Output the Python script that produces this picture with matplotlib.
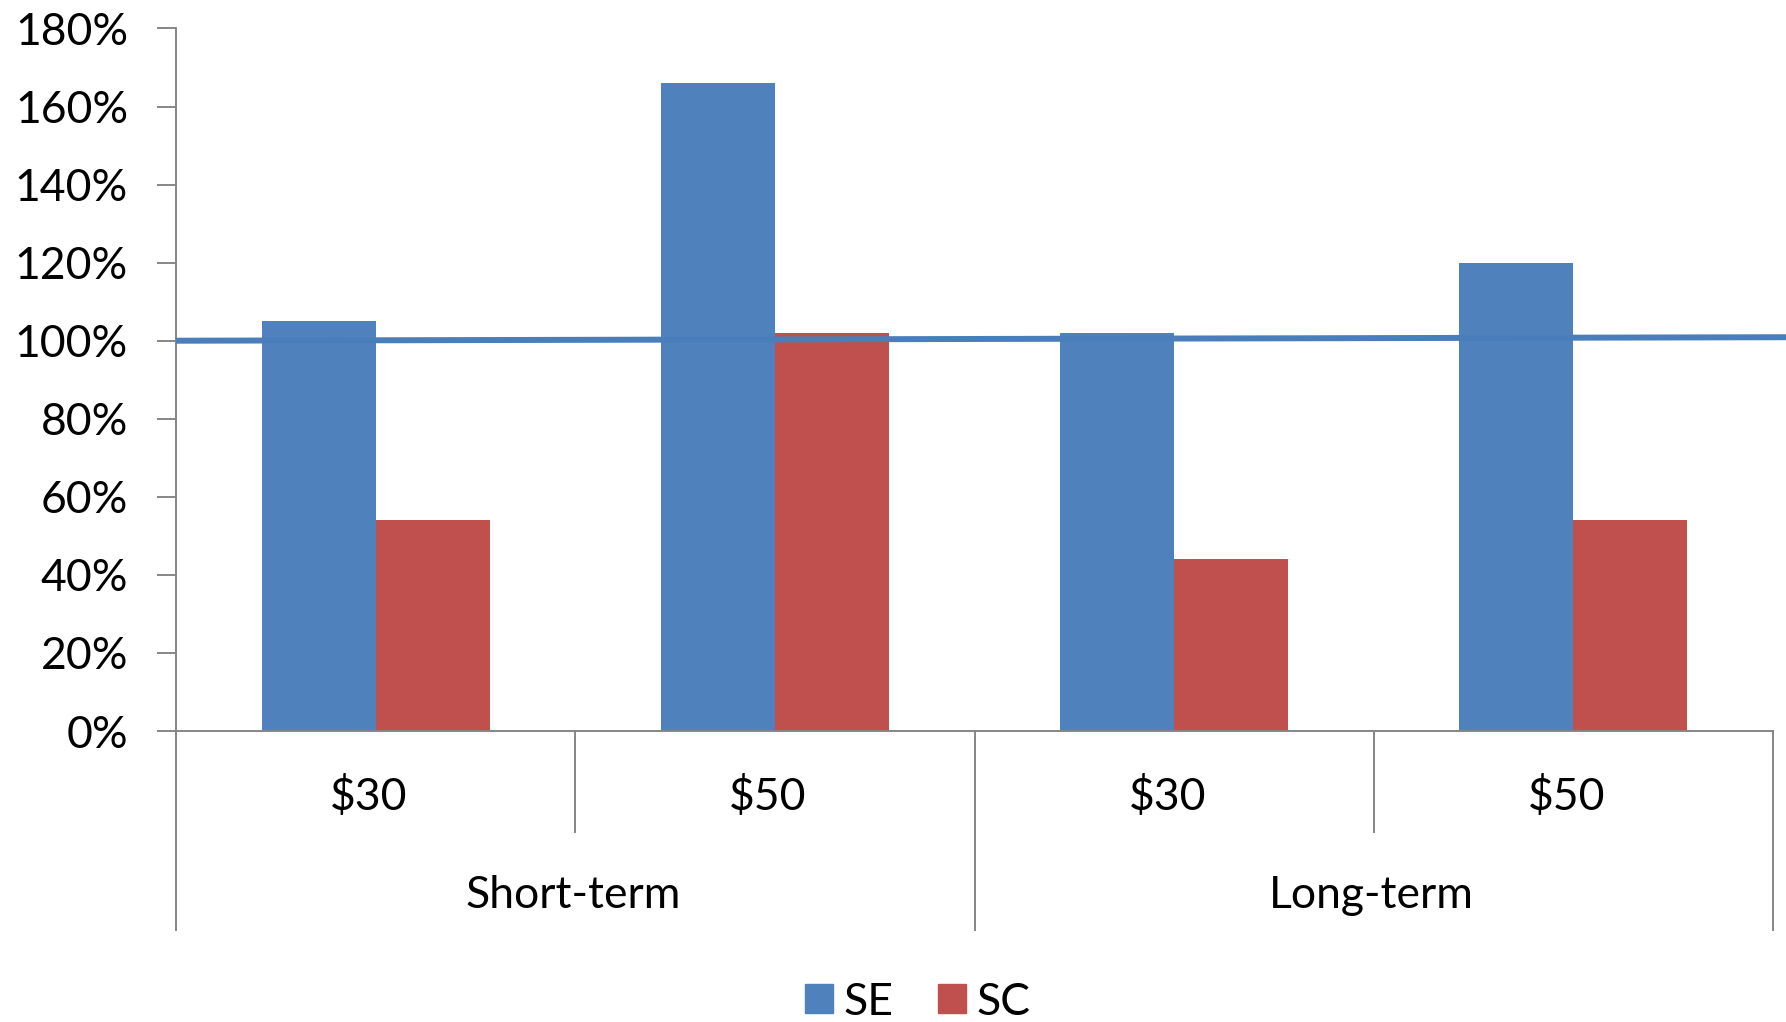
import numpy as np
import matplotlib
matplotlib.use('Agg')
import matplotlib.pyplot as plt
from matplotlib.patches import Patch
import matplotlib.transforms as mtransforms

plt.rcParams['font.family'] = ['Lato', 'DejaVu Sans']

# data
prices = ['$30', '$50', '$30', '$50']
terms = ['Short-term', 'Long-term']
se_vals = [105, 166, 102, 120]
sc_vals = [54, 102, 44, 54]
target_line = [100.0, 100.9]   # hand-drawn 100% marker, left end / right end

blue = '#4F81BD'
red = '#C0504D'
grey = '#868686'

fig = plt.figure(figsize=(17.86, 10.22), dpi=100)
ax = fig.add_axes([176/1786, 291/1022, (1773-176)/1786, (731-28.5)/1022])

x = np.arange(len(prices))
w = 1/3.5   # excel gap width 150%
ax.bar(x - w/2, se_vals, w, color=blue, zorder=2)
ax.bar(x + w/2, sc_vals, w, color=red, zorder=2)

ax.set_xlim(-0.5, len(prices) - 0.5)
ax.set_ylim(0, 180)
ax.set_yticks(np.arange(0, 181, 20))
ax.set_yticklabels([f'{v}%' for v in range(0, 181, 20)], fontsize=32)
ax.tick_params(axis='y', length=13.5, width=1.4, color=grey, pad=21, direction='out')
ax.set_xticks([])

for s in ['top', 'right']:
    ax.spines[s].set_visible(False)
for s in ['left', 'bottom']:
    ax.spines[s].set_color(grey)
    ax.spines[s].set_linewidth(1.4)

# 100% line drawn over the bars, running out to the right edge
x_end = (1786 - 176) / ((1773 - 176) / 4) - 0.5
ax.plot([-0.5, x_end], target_line, color='#4A7EBB', lw=4.3, zorder=3,
        clip_on=False, solid_capstyle='butt')

# two-level category axis
trans = mtransforms.blended_transform_factory(ax.transData, ax.transAxes)
short_drop = -101 / 702.5
long_drop = -199 / 702.5
for i in range(len(prices) + 1):
    xb = i - 0.5
    drop = long_drop if i % 2 == 0 else short_drop
    ax.plot([xb, xb], [0, drop], color=grey, lw=1.4, transform=trans, clip_on=False)

for i, p in enumerate(prices):
    ax.text(i - 0.017, -66 / 702.5, p, transform=trans, ha='center', va='center', fontsize=32)
for j, t in enumerate(terms):
    ax.text(2*j + 0.495, -165 / 702.5, t, transform=trans, ha='center', va='center', fontsize=32)

handles = [Patch(color=blue, label='SE'), Patch(color=red, label='SC')]
fig.legend(handles=handles, loc='center', bbox_to_anchor=(0.514, 1 - 1002/1022),
           ncol=2, frameon=False, fontsize=32, handlelength=0.62, handleheight=0.62,
           handletextpad=0.25, columnspacing=1.0)

fig.savefig('out.png', dpi=100)
